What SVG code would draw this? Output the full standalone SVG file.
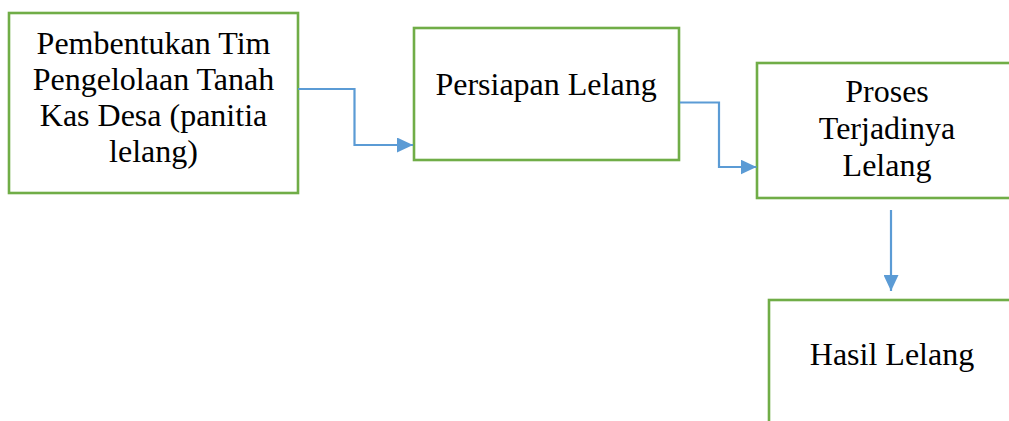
<svg xmlns="http://www.w3.org/2000/svg" width="1009" height="421" viewBox="0 0 1009 421">
<style>
.box{fill:#fff;stroke:#70AD47;stroke-width:2.6}
.lbl{font-size:32px;fill:#000;text-anchor:middle}
.conn{fill:none;stroke:#5B9BD5;stroke-width:2.2}
</style>
<defs>
<marker id="ah" markerUnits="userSpaceOnUse" markerWidth="17" markerHeight="15" refX="16" refY="7.5" orient="auto">
<path d="M0,0 L16,7.5 L0,15 Z" fill="#5B9BD5"/>
</marker>
</defs>
<rect width="1009" height="421" fill="#fff"/>
<g font-family="'Liberation Serif', 'Times New Roman', 'DejaVu Serif', serif">
<g id="n1">
<rect class="box" x="9" y="13" width="289" height="180"/>
<text class="lbl" x="153.5" y="53.5">Pembentukan Tim</text>
<text class="lbl" x="153.5" y="89.5">Pengelolaan Tanah</text>
<text class="lbl" x="153.5" y="125.5">Kas Desa (panitia</text>
<text class="lbl" x="153.5" y="161.5">lelang)</text>
</g>
<g id="n2">
<rect class="box" x="414" y="28" width="265" height="132"/>
<text class="lbl" x="546" y="95">Persiapan Lelang</text>
</g>
<g id="n3">
<rect class="box" x="757" y="63" width="262" height="135"/>
<text class="lbl" x="887" y="101.5">Proses</text>
<text class="lbl" x="887" y="139">Terjadinya</text>
<text class="lbl" x="887" y="176">Lelang</text>
</g>
<g id="n4">
<rect class="box" x="769" y="300" width="250" height="140"/>
<text class="lbl" x="892" y="365">Hasil Lelang</text>
</g>
</g>
<g id="connectors">
<path class="conn" d="M298,89 H354.5 V145 H413" marker-end="url(#ah)"/>
<path class="conn" d="M680,102.5 H719 V167 H756.5" marker-end="url(#ah)"/>
<path class="conn" d="M891,210 V291" marker-end="url(#ah)"/>
</g>
</svg>
